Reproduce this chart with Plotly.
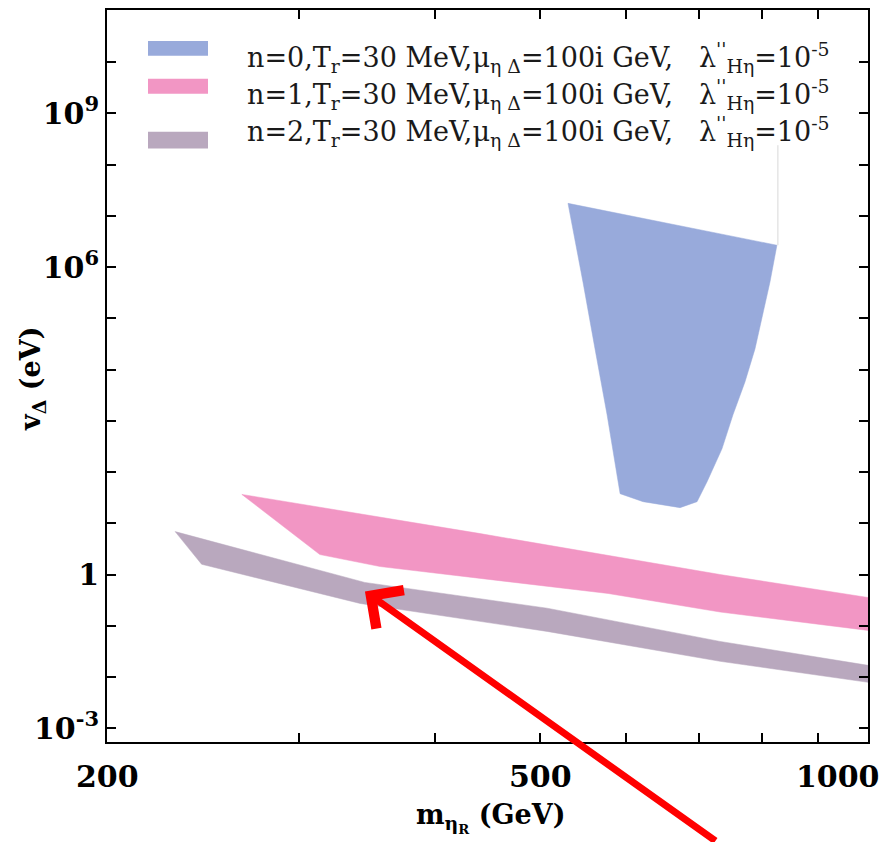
import math
import plotly.graph_objects as go

# ---------------- data ----------------
blue_m = [530.2, 824.8, 812.7, 800.7, 787.4, 770.9, 751.6, 734.3, 711.5, 696.6, 672.0, 621.5,
          592.0, 589.5, 575.9, 561.4, 547.3]
blue_v = [1.76e7, 2.68e6, 5.1e5, 1.16e5, 2.53e4, 5.75e3, 1.31e3, 284, 64.7, 26.4, 20.2, 26.4,
          37.8, 64.7, 1.31e3, 2.53e4, 5.1e5]

pink_upper_m = [266.0, 440.4, 731.3, 1000]
pink_upper_v = [36.6, 6.28, 1.0, 0.356]
pink_lower_m = [313.7, 356.3, 577.1, 731.3, 1000]
pink_lower_v = [2.45, 1.43, 0.426, 0.185, 0.081]

gray_upper_m = [231.0, 345.0, 507.3, 731.3, 1000]
gray_upper_v = [6.87, 0.700, 0.220, 0.0494, 0.01685]
gray_lower_m = [244.3, 341.6, 507.3, 731.3, 1000]
gray_lower_v = [1.585, 0.272, 0.0774, 0.0202, 0.00786]

edge_line_m = [826.5, 826.5]
edge_line_v = [2.4e8, 2.68e6]

x_tick_vals = [200, 300, 400, 500, 600, 700, 800, 900, 1000]
x_label_vals = [200, 500, 1000]
x_label_text = ["200", "500", "1000"]
y_tick_exps = list(range(-3, 11))
y_label_map = {-3: "10<sup>-3</sup>", 0: "1", 6: "10<sup>6</sup>", 9: "10<sup>9</sup>"}

legend_labels = [
    "n=0,T<sub>r</sub>=30 MeV,μ<sub>η Δ</sub>=100i GeV,   λ<sup>''</sup><sub>Hη</sub>=10<sup>-5</sup>",
    "n=1,T<sub>r</sub>=30 MeV,μ<sub>η Δ</sub>=100i GeV,   λ<sup>''</sup><sub>Hη</sub>=10<sup>-5</sup>",
    "n=2,T<sub>r</sub>=30 MeV,μ<sub>η Δ</sub>=100i GeV,   λ<sup>''</sup><sub>Hη</sub>=10<sup>-5</sup>",
]
colors = ["#98AADB", "#F296C4", "#B9A8BE"]

arrow_tip_m, arrow_tip_v = 345.1, 0.466

# ---------------- figure ----------------
W, H = 887, 842
ML, MR, MT, MB = 107, 19, 8, 100
PW, PH = W - ML - MR, H - MT - MB

def px_x(p):
    return (p - ML) / PW

def px_y(p):
    return (H - MB - p) / PH

fig = go.Figure()

def band(um, uv, lm, lv):
    xs = list(um) + list(lm[::-1]) + [um[0]]
    ys = list(uv) + list(lv[::-1]) + [uv[0]]
    return xs, ys

fig.add_trace(go.Scatter(x=blue_m + [blue_m[0]], y=blue_v + [blue_v[0]], mode="lines",
                         fill="toself", fillcolor=colors[0], line=dict(color=colors[0], width=0.5),
                         hoverinfo="skip", showlegend=False))
xs, ys = band(pink_upper_m, pink_upper_v, pink_lower_m, pink_lower_v)
fig.add_trace(go.Scatter(x=xs, y=ys, mode="lines", fill="toself", fillcolor=colors[1],
                         line=dict(color=colors[1], width=0.5), hoverinfo="skip", showlegend=False))
xs, ys = band(gray_upper_m, gray_upper_v, gray_lower_m, gray_lower_v)
fig.add_trace(go.Scatter(x=xs, y=ys, mode="lines", fill="toself", fillcolor=colors[2],
                         line=dict(color=colors[2], width=0.5), hoverinfo="skip", showlegend=False))
fig.add_trace(go.Scatter(x=edge_line_m, y=edge_line_v, mode="lines",
                         line=dict(color="#D8D8D8", width=1), hoverinfo="skip", showlegend=False))

tick_font = dict(family="DejaVu Serif", size=30, color="black", weight="bold")

fig.update_xaxes(type="log", range=[math.log10(200), math.log10(1000)],
                 tickvals=x_tick_vals, showticklabels=False,
                 ticks="inside", ticklen=9, tickwidth=2, tickcolor="black",
                 showline=True, linewidth=2, linecolor="black", mirror="ticks",
                 showgrid=False, zeroline=False)
fig.update_yaxes(type="log", range=[-3.27, 11.02],
                 tickvals=[10.0 ** k for k in y_tick_exps],
                 ticktext=[y_label_map.get(k, "") for k in y_tick_exps],
                 tickfont=tick_font,
                 ticks="inside", ticklen=9, tickwidth=2, tickcolor="black",
                 showline=True, linewidth=2, linecolor="black", mirror="ticks",
                 showgrid=False, zeroline=False)

ann = []
for v, t in zip(x_label_vals, x_label_text):
    ann.append(dict(x=math.log10(v), y=px_y(777), xref="x", yref="paper", text=t,
                    showarrow=False, xanchor="center", yanchor="middle",
                    xshift=(-30 if v == 1000 else 0), font=tick_font))
ann.append(dict(x=px_x(491), y=px_y(818), xref="paper", yref="paper",
                text="m<sub>η<sub>R</sub></sub> (GeV)", showarrow=False,
                xanchor="center", yanchor="middle",
                font=dict(family="DejaVu Serif", size=27, color="black", weight="bold")))
ann.append(dict(x=px_x(33), y=px_y(378), xref="paper", yref="paper",
                text="v<sub>Δ</sub> (eV)", showarrow=False, textangle=-90,
                xanchor="center", yanchor="middle",
                font=dict(family="DejaVu Serif", size=27, color="black", weight="bold")))

# legend (manual)
sw_rows = [(39, 54), (77, 92), (130, 147)]
txt_rows = [56, 93, 130]
shapes = []
for (y0, y1), c in zip(sw_rows, colors):
    shapes.append(dict(type="rect", xref="paper", yref="paper",
                       x0=px_x(148), x1=px_x(208), y0=px_y(y1), y1=px_y(y0),
                       fillcolor=c, line=dict(width=0)))
for yc, t in zip(txt_rows, legend_labels):
    ann.append(dict(x=px_x(245), y=px_y(yc), xref="paper", yref="paper", text=t,
                    showarrow=False, xanchor="left", yanchor="middle",
                    font=dict(family="DejaVu Serif", size=27, color="#1a1a1a")))

# red arrow
ann.append(dict(x=math.log10(arrow_tip_m), y=math.log10(arrow_tip_v), xref="x", yref="y",
                text="", showarrow=True, ax=352, ay=255, arrowcolor="#FF0000",
                arrowwidth=7, arrowhead=4, arrowsize=1.3, standoff=0))

fig.update_layout(width=W, height=H, margin=dict(l=ML, r=MR, t=MT, b=MB),
                  paper_bgcolor="white", plot_bgcolor="white",
                  annotations=ann, shapes=shapes, showlegend=False)

fig.write_html("out.html")
